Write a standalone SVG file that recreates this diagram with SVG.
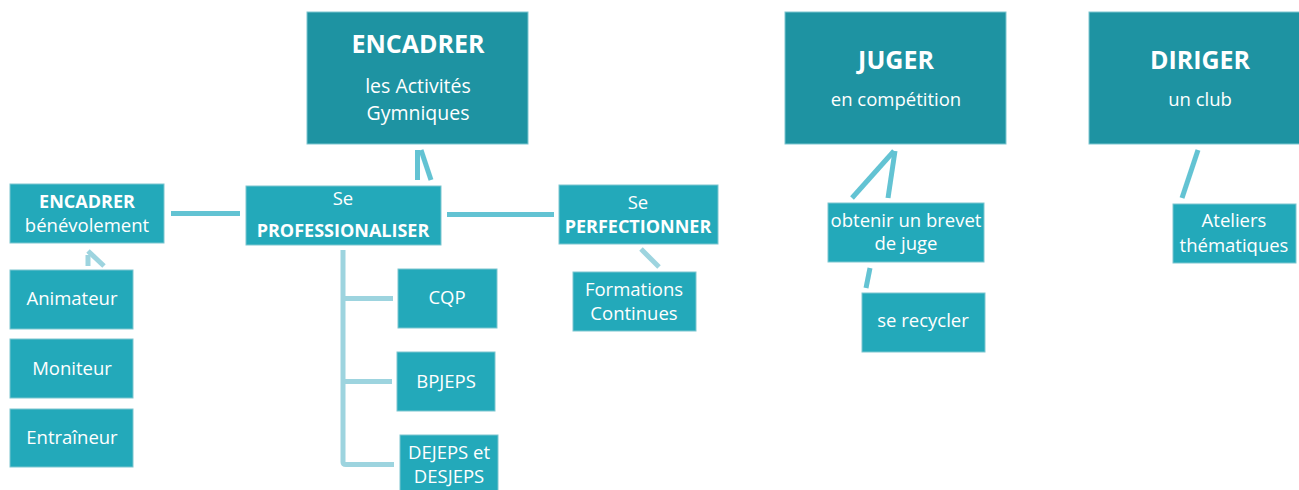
<svg xmlns="http://www.w3.org/2000/svg" width="1299" height="490" viewBox="0 0 1299 490">
<style>
.top{fill:#1e93a2;stroke:#7cc6d0;stroke-width:1}
.box{fill:#23a9ba;stroke:#7cc6d0;stroke-width:1}
text{font-family:"Open Sans","Noto Sans",sans-serif;fill:#ffffff;text-anchor:middle}
.h1{font-size:25px;font-weight:bold}
.t1{font-size:18.5px}
.t0{font-size:19.5px}
.h2{font-size:18px;font-weight:bold}
.t2{font-size:18.5px}
.c1{stroke:#63c3d3;stroke-width:5;fill:none}
.c2{stroke:#9dd4df;stroke-width:5;fill:none}
</style>
<rect width="1299" height="490" fill="#ffffff"/>
<g id="connectors">
<line class="c1" x1="171" y1="213.5" x2="240" y2="213.5"/>
<line class="c1" x1="447" y1="214.5" x2="554" y2="214.5"/>
<line class="c1" x1="417.5" y1="150" x2="417.5" y2="180"/>
<line class="c1" x1="421" y1="150" x2="431" y2="180"/>
<line class="c2" x1="88" y1="251" x2="104" y2="266"/>
<line class="c2" x1="88" y1="255" x2="88" y2="266"/>
<line class="c2" x1="641" y1="249" x2="659" y2="267"/>
<path class="c2" d="M343,250 V462 Q343,464.5 346,464.5 H394 M343,298.5 H393 M343,381.5 H392" stroke-linejoin="round"/>
<line class="c1" x1="852" y1="198" x2="894" y2="151"/>
<line class="c1" x1="895" y1="151" x2="888" y2="198"/>
<line class="c1" x1="870" y1="268" x2="866" y2="288"/>
<line class="c1" x1="1198" y1="150" x2="1182" y2="198"/>
</g>
<g id="n-encadrer">
<rect class="top" x="307" y="12" width="221" height="132"/>
<text class="h1" x="418" y="53">ENCADRER</text>
<text class="t0" x="418" y="93">les Activités</text>
<text class="t0" x="418" y="120">Gymniques</text>
</g>
<g id="n-juger">
<rect class="top" x="785" y="12" width="221" height="132"/>
<text class="h1" x="896" y="69">JUGER</text>
<text class="t1" x="896" y="106">en compétition</text>
</g>
<g id="n-diriger">
<rect class="top" x="1089" y="12" width="222" height="132"/>
<text class="h1" x="1200" y="69">DIRIGER</text>
<text class="t1" x="1200" y="106">un club</text>
</g>
<g id="n-benevole">
<rect class="box" x="10" y="184" width="154" height="59"/>
<text class="h2" x="87" y="208">ENCADRER</text>
<text class="t2" x="87" y="232">bénévolement</text>
</g>
<g id="n-pro">
<rect class="box" x="246" y="186" width="195" height="59"/>
<text class="t2" x="343" y="205">Se</text>
<text class="h2" x="343" y="237">PROFESSIONALISER</text>
</g>
<g id="n-perf">
<rect class="box" x="559" y="185" width="159" height="59"/>
<text class="t2" x="638" y="209">Se</text>
<text class="h2" x="638" y="233">PERFECTIONNER</text>
</g>
<g id="n-formations">
<rect class="box" x="573" y="272" width="123" height="59"/>
<text class="t2" x="634" y="296">Formations</text>
<text class="t2" x="634" y="320">Continues</text>
</g>
<g id="n-cqp">
<rect class="box" x="398" y="269" width="99" height="59"/>
<text class="t2" x="447" y="304">CQP</text>
</g>
<g id="n-bpjeps">
<rect class="box" x="397" y="352" width="98" height="59"/>
<text class="t2" x="446" y="388">BPJEPS</text>
</g>
<g id="n-dejeps">
<rect class="box" x="400" y="435" width="98" height="60"/>
<text class="t2" x="449" y="459">DEJEPS et</text>
<text class="t2" x="449" y="483">DESJEPS</text>
</g>
<g id="n-animateur">
<rect class="box" x="10" y="270" width="123" height="59"/>
<text class="t2" x="72" y="305">Animateur</text>
</g>
<g id="n-moniteur">
<rect class="box" x="10" y="339" width="123" height="59"/>
<text class="t2" x="72" y="375">Moniteur</text>
</g>
<g id="n-entraineur">
<rect class="box" x="10" y="409" width="123" height="58"/>
<text class="t2" x="72" y="444">Entraîneur</text>
</g>
<g id="n-brevet">
<rect class="box" x="828" y="203" width="156" height="59"/>
<text class="t2" x="906" y="227">obtenir un brevet</text>
<text class="t2" x="906" y="250">de juge</text>
</g>
<g id="n-recycler">
<rect class="box" x="862" y="293" width="123" height="59"/>
<text class="t2" x="923" y="327">se recycler</text>
</g>
<g id="n-ateliers">
<rect class="box" x="1173" y="204" width="123" height="59"/>
<text class="t2" x="1234" y="227">Ateliers</text>
<text class="t2" x="1234" y="252">thématiques</text>
</g>
</svg>
